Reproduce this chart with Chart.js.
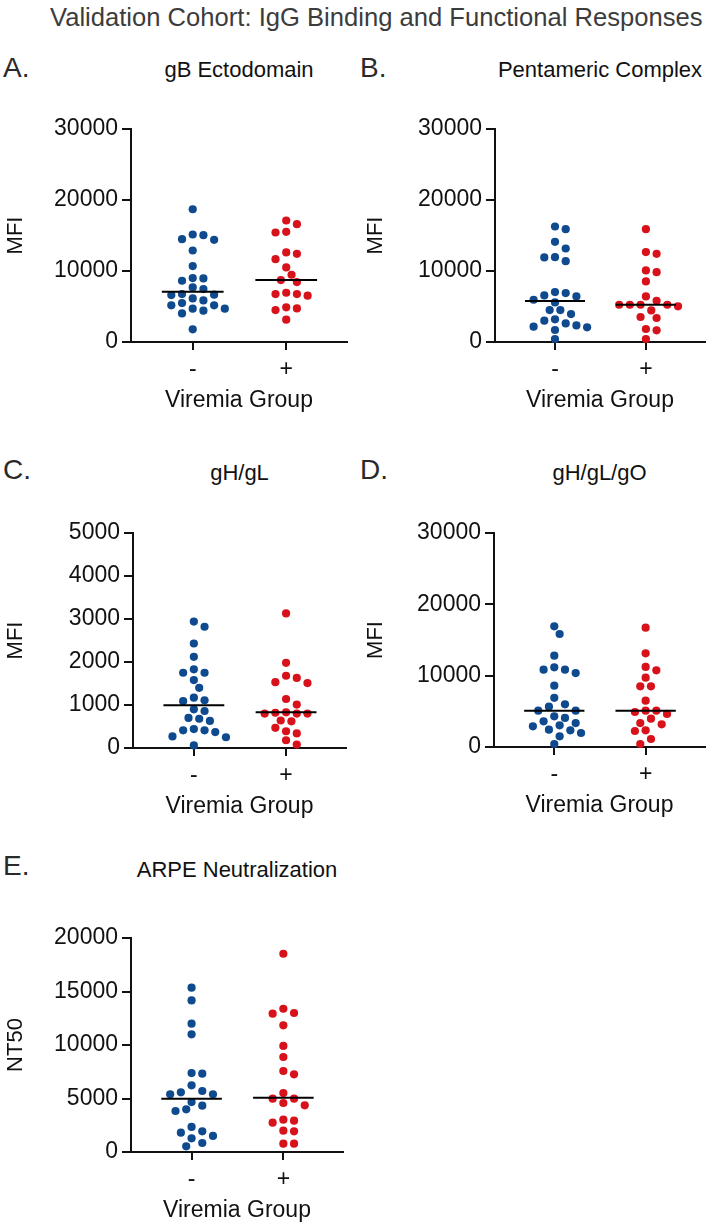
<!DOCTYPE html>
<html>
<head>
<meta charset="utf-8">
<script src="https://cdn.jsdelivr.net/npm/chart.js@4.4.1/dist/chart.umd.min.js"></script>
<style>
  html, body { margin: 0; padding: 0; background: #fff; }
  #page { position: relative; width: 712px; height: 1222px; overflow: hidden; font-family: "Liberation Sans", Arial, sans-serif; }
  #page canvas { position: absolute; }
  .title  { position: absolute; font-size: 25.6px; line-height: 1; color: #3c3c3c; white-space: nowrap; }
  .letter { position: absolute; font-size: 28px; line-height: 1; color: #2a2a2a; }
  .ptitle { position: absolute; font-size: 22px; line-height: 1; color: #111; text-align: center; white-space: nowrap; }
</style>
</head>
<body>
<div id="page">
  <div class="title" style="left:50px;top:5px">Validation Cohort: IgG Binding and Functional Responses</div>
</div>
<script>
/* ---------- data ---------- */
const groups = ["-", "+"];

const gbNeg = [18700, 15050, 14480, 14390, 15140, 12890, 10690, 8950, 9000, 8625, 7690, 7450, 6660,
               6750, 6610, 5480, 5860, 6140, 5160, 5160, 4410, 4690, 4690, 4030, 1780];
const gbPos = [17110, 16590, 15520, 15420, 12420, 12610, 11670, 10500, 9470, 8720, 8440, 6750, 6520,
               6750, 6940, 4880, 4500, 4730, 3140];
const gbMedian = [7080, 8720];

const pentNeg = [16270, 15890, 14110, 13170, 11390, 11950, 11910, 6560, 5950, 6890, 7030, 6420, 5580,
                 4500, 4500, 3940, 3000, 2620, 3190, 2160, 1690, 2340, 2060, 420];
const pentPos = [15890, 12420, 12660, 10080, 9840, 8530, 6420, 5250, 5250, 5250, 5020, 5250, 5810,
                 3520, 3380, 4450, 1830, 1640, 420];
const pentMedian = [5770, 5250];

const ghglNeg = [2940, 2820, 2430, 2120, 1750, 1830, 1750, 1580, 1400, 1110, 1090, 1170, 860, 900,
                 630, 680, 700, 410, 440, 370, 410, 270, 250, 60];
const ghglPos = [3130, 1980, 1530, 1510, 1630, 1680, 1010, 1140, 800, 830, 800, 800, 820, 620, 640,
                 470, 390, 340, 180, 80];
const ghglMedian = [995, 830];

const ghglgoNeg = [16920, 15840, 12800, 10370, 11170, 10840, 10840, 8600, 6890, 5980, 5650, 5090, 5090,
                   4300, 4070, 2900, 3360, 2430, 3040, 3600, 2340, 1960, 1500, 420];
const ghglgoPos = [16730, 13130, 11220, 10750, 9720, 8500, 8500, 6500, 5090, 4910, 5090, 3970, 4630,
                   3360, 3180, 2340, 2240, 1120, 420];
const ghglgoMedian = [5090, 5090];

const arpeNeg = [15360, 14170, 11990, 11000, 7380, 7320, 5700, 5390, 5580, 6230, 5390, 4670, 3990,
                 4330, 3830, 2340, 1930, 1810, 1500, 1280, 840, 530];
const arpePos = [18530, 13390, 12990, 12930, 11840, 9910, 8880, 7570, 7260, 5510, 4980, 4980, 4360,
                 4580, 2740, 2930, 3020, 1930, 1990, 780, 780];
const arpeMedian = [4980, 5080];

const ticks30k = [0, 10000, 20000, 30000];
const ticks5k  = [0, 1000, 2000, 3000, 4000, 5000];
const ticks20k = [0, 5000, 10000, 15000, 20000];

/* ---------- look ---------- */
const BLUE = "#0f4a8e";
const RED  = "#d8121b";
const TICK_FONT   = {family: "Liberation Sans", size: 23};
const LABEL_FONT  = {family: "Liberation Sans", size: 22};
const XTITLE_FONT = {family: "Liberation Sans", size: 23};
const X_MIN = 0.34, X_MAX = 2.65, MED_HALF = 0.33;
const TOP_PAD = 30, X_AXIS_H = 80;

// headY = vertical centre of the panel letter / title text
const panels = [
  {letter: "A.", title: "gB Ectodomain",       yTitle: "MFI",  neg: gbNeg,     pos: gbPos,     med: gbMedian,     ticks: ticks30k,
   left: 0,   width: 360, plotLeft: 131, plotRight: 347, plotTop: 129, plotBottom: 342, letterY: 68, titleY: 70},
  {letter: "B.", title: "Pentameric Complex",  yTitle: "MFI",  neg: pentNeg,   pos: pentPos,   med: pentMedian,   ticks: ticks30k,
   left: 360, width: 352, plotLeft: 495, plotRight: 705, plotTop: 129, plotBottom: 342, letterY: 68, titleY: 70},
  {letter: "C.", title: "gH/gL",               yTitle: "MFI",  neg: ghglNeg,   pos: ghglPos,   med: ghglMedian,   ticks: ticks5k,
   left: 0,   width: 360, plotLeft: 133, plotRight: 346, plotTop: 533, plotBottom: 748, letterY: 470, titleY: 473},
  {letter: "D.", title: "gH/gL/gO",            yTitle: "MFI",  neg: ghglgoNeg, pos: ghglgoPos, med: ghglgoMedian, ticks: ticks30k,
   left: 360, width: 352, plotLeft: 494, plotRight: 705, plotTop: 533, plotBottom: 747, letterY: 470, titleY: 473},
  {letter: "E.", title: "ARPE Neutralization", yTitle: "NT50", neg: arpeNeg,   pos: arpePos,   med: arpeMedian,   ticks: ticks20k,
   left: 0,   width: 360, plotLeft: 131, plotRight: 343, plotTop: 938, plotBottom: 1152, letterY: 866, titleY: 870}
];

/* ---------- dot layout: simple beeswarm in pixel space ---------- */
function swarm(vals, center, pxX, pxY) {
  const step = 5.35, minD = 9;
  const order = vals.map((v, i) => i).sort((a, b) => vals[b] - vals[a]);
  const placed = [], out = new Array(vals.length);
  order.forEach(i => {
    const py = vals[i] * pxY;
    for (let k = 0; k < 60; k++) {
      const off = (k % 2 ? 1 : -1) * Math.ceil(k / 2) * step;
      if (placed.every(p => Math.hypot(p.x - off, p.y - py) >= minD)) {
        placed.push({x: off, y: py});
        out[i] = {x: center + off / pxX, y: vals[i]};
        break;
      }
    }
  });
  return out;
}

const page = document.getElementById("page");

panels.forEach(p => {
  // letter + panel title
  const lt = document.createElement("div");
  lt.className = "letter";
  lt.textContent = p.letter;
  lt.style.left = (p.left === 0 ? 3 : p.left) + "px";
  lt.style.top = (p.letterY - 14) + "px";
  page.appendChild(lt);

  const tt = document.createElement("div");
  tt.className = "ptitle";
  tt.textContent = p.title;
  tt.style.left = p.plotLeft + "px";
  tt.style.width = (p.plotRight - p.plotLeft) + "px";
  tt.style.top = (p.titleY - 11) + "px";
  page.appendChild(tt);

  // canvas
  const cv = document.createElement("canvas");
  const h = TOP_PAD + (p.plotBottom - p.plotTop) + X_AXIS_H;
  cv.width = p.width; cv.height = h;
  cv.style.left = p.left + "px";
  cv.style.top = (p.plotTop - TOP_PAD) + "px";
  cv.style.width = p.width + "px"; cv.style.height = h + "px";
  page.appendChild(cv);

  const yMax = p.ticks[p.ticks.length - 1];
  const medLine = (c, v) => ({
    data: [{x: c - MED_HALF, y: v}, {x: c + MED_HALF, y: v}],
    showLine: true, borderColor: "#000", borderWidth: 2, pointRadius: 0, clip: false
  });
  const dots = (vals, c, col) => ({
    data: vals.map(v => ({x: c, y: v})),
    backgroundColor: col, borderWidth: 0, pointRadius: 4.1, pointHoverRadius: 4.1, clip: false
  });

  const chart = new Chart(cv, {
    type: "scatter",
    data: {datasets: [
      medLine(1, p.med[0]), medLine(2, p.med[1]),
      dots(p.neg, 1, BLUE), dots(p.pos, 2, RED)
    ]},
    options: {
      responsive: false, animation: false, events: [],
      layout: {padding: {top: TOP_PAD, left: 0, bottom: 0, right: p.left + p.width - p.plotRight}},
      plugins: {legend: {display: false}, tooltip: {enabled: false}},
      scales: {
        x: {
          type: "linear", min: X_MIN, max: X_MAX,
          afterBuildTicks: s => { s.ticks = [{value: 1}, {value: 2}]; },
          afterFit: s => { s.height = X_AXIS_H; },
          ticks: {callback: v => groups[Math.round(v) - 1], font: TICK_FONT, color: "#111", padding: 6, maxRotation: 0},
          grid: {drawOnChartArea: false, tickLength: 8, color: "#111", lineWidth: 2},
          border: {color: "#111", width: 2},
          title: {display: true, text: "Viremia Group", font: XTITLE_FONT, color: "#111", padding: {top: 0, bottom: 8}}
        },
        y: {
          min: 0, max: yMax,
          afterBuildTicks: s => { s.ticks = p.ticks.map(v => ({value: v})); },
          afterFit: s => { s.width = p.plotLeft - p.left; },
          ticks: {font: TICK_FONT, color: "#111", padding: 4, callback: v => String(v)},
          grid: {drawOnChartArea: false, tickLength: 9, color: "#111", lineWidth: 2},
          border: {color: "#111", width: 2},
          title: {display: true, text: p.yTitle, font: LABEL_FONT, color: "#111", padding: {top: 3, bottom: 0}}
        }
      }
    }
  });

  // spread the dots now that the scales know their pixel size
  const sx = chart.scales.x, sy = chart.scales.y;
  const pxX = Math.abs(sx.getPixelForValue(2) - sx.getPixelForValue(1));
  const pxY = Math.abs(sy.getPixelForValue(0) - sy.getPixelForValue(yMax)) / yMax;
  chart.data.datasets[2].data = swarm(p.neg, 1, pxX, pxY);
  chart.data.datasets[3].data = swarm(p.pos, 2, pxX, pxY);
  chart.update("none");
});
</script>
</body>
</html>
